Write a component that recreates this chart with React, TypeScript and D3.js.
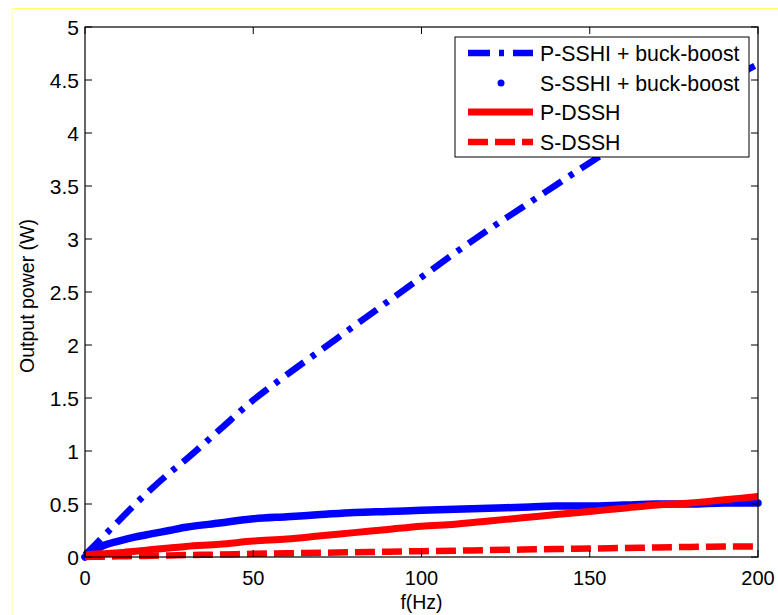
import React from "react";
import * as d3 from "d3";

const freqs = [0, 5, 10, 15, 20, 25, 30, 40, 50, 60, 70, 80, 90, 100, 110, 120, 130, 140, 150, 160, 170, 180, 190, 200];
const pSSHI = [0.02, 0.18, 0.34, 0.5, 0.65, 0.79, 0.92, 1.2, 1.48, 1.72, 1.95, 2.18, 2.41, 2.64, 2.87, 3.09, 3.3, 3.51, 3.72, 3.92, 4.12, 4.3, 4.48, 4.65];
const sSSHI = [0.0, 0.1, 0.15, 0.19, 0.22, 0.25, 0.28, 0.32, 0.36, 0.38, 0.4, 0.42, 0.43, 0.44, 0.45, 0.46, 0.47, 0.48, 0.48, 0.49, 0.5, 0.5, 0.51, 0.51];
const pDSSH = [0.02, 0.03, 0.04, 0.055, 0.07, 0.085, 0.1, 0.12, 0.15, 0.17, 0.2, 0.23, 0.26, 0.29, 0.31, 0.34, 0.37, 0.4, 0.43, 0.46, 0.49, 0.51, 0.54, 0.57];
const sDSSH = [0.0, 0.003, 0.006, 0.009, 0.012, 0.015, 0.018, 0.023, 0.03, 0.035, 0.04, 0.045, 0.05, 0.055, 0.06, 0.065, 0.07, 0.075, 0.08, 0.085, 0.09, 0.095, 0.1, 0.1];

const xTicks = [0, 50, 100, 150, 200];
const yTicks = [0, 0.5, 1, 1.5, 2, 2.5, 3, 3.5, 4, 4.5, 5];
const seriesNames = ["P-SSHI + buck-boost", "S-SSHI + buck-boost", "P-DSSH", "S-DSSH"];

const W = 778, H = 615;
const L = 85, R = 758, T = 27, B = 557;
const FONT = "'Liberation Sans', Arial, Helvetica, sans-serif";

export default function App() {
  const x = d3.scaleLinear().domain([0, 200]).range([L, R]);
  const y = d3.scaleLinear().domain([0, 5]).range([B, T]);
  const line = (vals: number[]) =>
    d3.line<number>().x((_, i) => x(freqs[i])).y((v) => y(v)).curve(d3.curveMonotoneX)(vals) || "";

  const styles = [
    { color: "#0000ff", width: 6.5, dash: "22,9,5,9", cap: "butt" },
    { color: "#0000ff", width: 7.5, dash: "none", cap: "round" },
    { color: "#ff0000", width: 7, dash: "none", cap: "butt" },
    { color: "#ff0000", width: 6.5, dash: "20,7", cap: "butt" },
  ];
  const data = [pSSHI, sSSHI, pDSSH, sDSSH];
  const tickLen = 7;
  const legX0 = 455, legX1 = 749, legY0 = 37, legY1 = 157;
  const rowY = [53, 83, 112, 142];

  return (
    <svg width={W} height={H} style={{ position: "absolute", left: 0, top: 0, background: "#fff" }} fontFamily={FONT}>
      <rect x={0} y={0} width={W} height={H} fill="#fff" />
      <line x1={12} y1={8.5} x2={W} y2={8.5} stroke="#ffff66" strokeWidth={1} />
      <line x1={12.5} y1={8} x2={12.5} y2={H} stroke="#ffffcc" strokeWidth={1} />
      <rect x={L} y={T} width={R - L} height={B - T} fill="#fff" />
      {data.map((vals, i) => (
        <path key={i} d={line(vals)} fill="none" stroke={styles[i].color} strokeWidth={styles[i].width}
          strokeDasharray={styles[i].dash} strokeLinecap={styles[i].cap as any} strokeLinejoin="round" />
      ))}
      {/* axes box */}
      <rect x={L} y={T} width={R - L} height={B - T} fill="none" stroke="#000" strokeWidth={1.2} />
      {xTicks.map((t) => (
        <g key={"x" + t}>
          <line x1={x(t)} x2={x(t)} y1={B} y2={B - tickLen} stroke="#000" />
          <line x1={x(t)} x2={x(t)} y1={T} y2={T + tickLen} stroke="#000" />
          <text x={x(t)} y={585} textAnchor="middle" fontSize={20}>{t}</text>
        </g>
      ))}
      {yTicks.map((t) => (
        <g key={"y" + t}>
          <line x1={L} x2={L + tickLen} y1={y(t)} y2={y(t)} stroke="#000" />
          <line x1={R} x2={R - tickLen} y1={y(t)} y2={y(t)} stroke="#000" />
          <text x={79} y={y(t) + 7.5} textAnchor="end" fontSize={21}>{t}</text>
        </g>
      ))}
      <text x={(L + R) / 2} y={609} textAnchor="middle" fontSize={19.5}>f(Hz)</text>
      <text transform={`translate(34,${(T + B) / 2 + 4}) rotate(-90)`} textAnchor="middle" fontSize={19.5}>Output power (W)</text>
      {/* legend */}
      <rect x={legX0} y={legY0} width={legX1 - legX0} height={legY1 - legY0} fill="#fff" stroke="#000" strokeWidth={1} />
      {seriesNames.map((name, i) => (
        <g key={name}>
          {i === 1 ? (
            <circle cx={501} cy={rowY[i]} r={3.5} fill="#0000ff" />
          ) : (
            <line x1={468} x2={533} y1={rowY[i]} y2={rowY[i]} stroke={styles[i].color} strokeWidth={styles[i].width}
              strokeDasharray={styles[i].dash} />
          )}
          <text x={540} y={rowY[i] + 7.5} fontSize={21.3}>{name}</text>
        </g>
      ))}
    </svg>
  );
}
